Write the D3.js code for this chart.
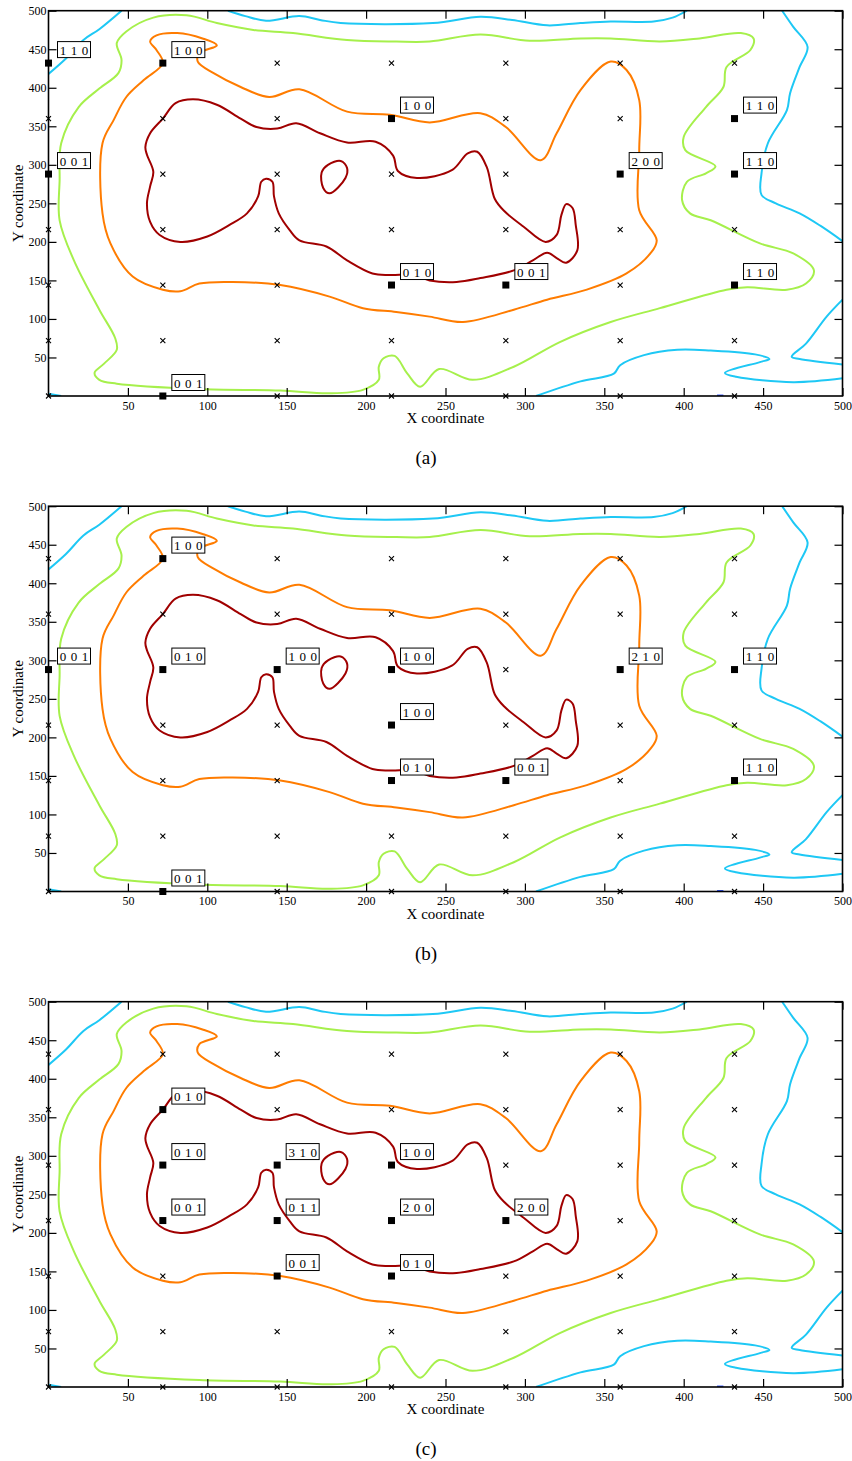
<!DOCTYPE html>
<html lang="en">
<head>
<meta charset="utf-8">
<title>Contours</title>
<script src="https://d3js.org/d3.v7.min.js"></script>
<style>
  body { margin: 0; background: #fff; }
  svg text { font-family: "Liberation Serif", "Times New Roman", serif; fill: #000; }
</style>
</head>
<body>
<script>
// grid of sample sites and axis ticks
const gridPos = [0, 72, 144, 216, 288, 360, 432];
const xTicks = [50, 100, 150, 200, 250, 300, 350, 400, 450, 500];
const yTicks = [50, 100, 150, 200, 250, 300, 350, 400, 450, 500];
const captions = ["(a)", "(b)", "(c)"];

// contour pieces, [x, y] in data units (same field in all three panels)
const cyanCornerTL = [[0,418],[11,438],[22,462],[32,476],[46,500]];
const cyanTop = [[113,500],[124,493],[137,487],[158,493],[171,488],[184,484],[242,484],[272,492],[292,488],[314,481],[335,484],[354,486],[381,486],[393,491],[402,500]];
const cyanRight = [[462,500],[469,479],[478,453],[473,427],[467,393],[465,371],[453,328],[449,289],[449,261],[458,250],[473,237],[486,221],[500,201]];
const cyanLobe = [[500,125],[490,103],[477,68],[468,51],[473,48],[500,41]];
const cyanBottom = [[307,0],[335,19],[356,29],[360,40],[375,53],[396,60],[417,59],[445,54],[454,48],[448,44],[426,30],[433,25],[469,18],[500,23]];
const cyanCornerBL = [[0,3],[8,0]];
const blueSpeck = [[421,0.6],[425,0.6]];
const greenLoop = [[43,16],[32,21],[29,30],[35,42],[43,60],[42,75],[32,112],[16,176],[7,228],[7,280],[8,328],[19,375],[32,399],[44,419],[46,436],[43,458],[49,473],[66,491],[87,494],[106,484],[129,475],[154,471],[188,462],[219,460],[240,460],[272,469],[303,461],[335,464],[354,464],[385,460],[410,464],[436,471],[444,464],[442,449],[427,427],[425,401],[414,375],[400,336],[401,319],[420,298],[414,289],[402,278],[399,254],[404,237],[417,228],[448,198],[469,185],[482,163],[477,146],[465,138],[440,141],[427,138],[385,114],[354,96],[322,70],[293,38],[267,21],[246,35],[234,12],[226,29],[218,52],[211,49],[208,38],[208,21],[198,8],[177,3.5],[146,7],[95,9]];
const orangeLoop = [[72,432],[68,449],[64,460],[68,468],[81,471],[97,464],[106,455],[95,445],[94,434],[104,419],[121,401],[139,388],[158,398],[188,369],[215,365],[240,355],[272,367],[288,349],[310,306],[320,341],[335,397],[354,434],[364,423],[372,384],[372,319],[372,241],[383,202],[379,185],[364,159],[339,138],[314,125],[293,112],[261,96],[240,103],[219,109],[198,114],[177,129],[146,144],[116,148],[95,146],[83,136],[72,138],[53,155],[39,198],[34,237],[34,328],[41,358],[49,388],[60,410]];
const redLoop = [[72,360],[80,380],[91,385],[106,378],[121,360],[131,349],[144,347],[156,354],[171,341],[188,329],[206,330],[217,312],[220,292],[232,283],[254,293],[264,315],[270,317],[276,297],[281,256],[287,240],[299,220],[313,200],[320,209],[323,235],[326,249],[330,244],[332,222],[333,189],[326,173],[320,179],[314,186],[305,176],[293,163],[272,153],[257,148],[240,150],[230,157],[215,157],[204,159],[188,176],[175,194],[158,202],[152,215],[145,237],[142,259],[141,278],[137,282],[134,278],[132,259],[125,237],[114,222],[100,207],[83,200],[70,209],[64,226],[62,250],[64,272],[66,291],[62,313],[61,323],[64,341]];
const redIsland = [[172,290],[176,300],[184,305],[188,296],[187,283],[177,263],[173,270]];

const openPieces = [cyanCornerTL, cyanTop, cyanRight, cyanLobe, cyanBottom, cyanCornerBL, blueSpeck];
const openColors = ["#1ec8f5", "#1ec8f5", "#1ec8f5", "#1ec8f5", "#1ec8f5", "#1ec8f5", "#3355ff"];
const closedPieces = [greenLoop, orangeLoop, redLoop, redIsland];
const closedColors = ["#a6f04c", "#ff7c00", "#a00000", "#a00000"];

// labelled sites per panel: [x, y] and counts
const sitesA = [[0,432],[72,432],[216,360],[432,360],[0,288],[360,288],[432,288],[216,144],[288,144],[432,144],[72,0]];
const countsA = ["1 1 0","1 0 0","1 0 0","1 1 0","0 0 1","2 0 0","1 1 0","0 1 0","0 0 1","1 1 0","0 0 1"];
const sitesB = [[72,432],[0,288],[72,288],[144,288],[216,288],[360,288],[432,288],[216,216],[216,144],[288,144],[432,144],[72,0]];
const countsB = ["1 0 0","0 0 1","0 1 0","1 0 0","1 0 0","2 1 0","1 1 0","1 0 0","0 1 0","0 0 1","1 1 0","0 0 1"];
const sitesC = [[72,360],[72,288],[144,288],[216,288],[72,216],[144,216],[216,216],[288,216],[144,144],[216,144]];
const countsC = ["0 1 0","0 1 0","3 1 0","1 0 0","0 0 1","0 1 1","2 0 0","2 0 0","0 0 1","0 1 0"];

const panels = [[sitesA, countsA], [sitesB, countsB], [sitesC, countsC]];

const W = 852, H = 1461;
const pLeft = 48.5, pRight = 842.5, pTop = 10.7, pBottom = 396, step = 495.5;

const x = d3.scaleLinear().domain([0, 500]).range([pLeft, pRight]);
const y = d3.scaleLinear().domain([0, 500]).range([pBottom, pTop]);

const svg = d3.select("body").append("svg")
    .attr("width", W).attr("height", H);

svg.append("clipPath").attr("id", "plotclip")
  .append("rect")
    .attr("x", pLeft).attr("y", pTop)
    .attr("width", pRight - pLeft).attr("height", pBottom - pTop);

const openLine = d3.line().x(d => x(d[0])).y(d => y(d[1])).curve(d3.curveCatmullRom.alpha(0.5));
const closedLine = d3.line().x(d => x(d[0])).y(d => y(d[1])).curve(d3.curveCatmullRomClosed.alpha(0.5));

panels.forEach(([sites, counts], p) => {
  const g = svg.append("g").attr("transform", "translate(0," + (p * step) + ")");

  // contours
  const c = g.append("g").attr("clip-path", "url(#plotclip)")
      .attr("fill", "none").attr("stroke-width", 2).attr("stroke-linejoin", "round");
  openPieces.forEach((pts, i) => {
    c.append("path").attr("d", openLine(pts)).attr("stroke", openColors[i]);
  });
  closedPieces.forEach((pts, i) => {
    c.append("path").attr("d", closedLine(pts)).attr("stroke", closedColors[i]);
  });

  // axes, ticks point inward
  const bAxis = g.append("g").attr("transform", "translate(0," + pBottom + ")")
      .call(d3.axisBottom(x).tickValues(xTicks).tickSizeInner(-8).tickSizeOuter(0).tickPadding(5));
  const lAxis = g.append("g").attr("transform", "translate(" + pLeft + ",0)")
      .call(d3.axisLeft(y).tickValues(yTicks).tickSizeInner(-8).tickSizeOuter(0).tickPadding(2));
  const tAxis = g.append("g").attr("transform", "translate(0," + pTop + ")")
      .call(d3.axisTop(x).tickValues(xTicks).tickSizeInner(-8).tickSizeOuter(0).tickFormat(""));
  const rAxis = g.append("g").attr("transform", "translate(" + pRight + ",0)")
      .call(d3.axisRight(y).tickValues(yTicks).tickSizeInner(-8).tickSizeOuter(0).tickFormat(""));
  [bAxis, lAxis, tAxis, rAxis].forEach(a => {
    a.select(".domain").remove();
    a.selectAll(".tick line").attr("stroke", "#000").attr("stroke-width", 1.2);
    a.selectAll("text").attr("font-family", "Liberation Serif, serif").attr("font-size", 12).attr("fill", "#000");
  });

  g.append("rect")
      .attr("x", pLeft).attr("y", pTop)
      .attr("width", pRight - pLeft).attr("height", pBottom - pTop)
      .attr("fill", "none").attr("stroke", "#000").attr("stroke-width", 1.6);

  // grid sites: squares where labelled, crosses elsewhere
  const key = d => d[0] + "," + d[1];
  const marked = new Set(sites.map(key));
  const all = [];
  gridPos.forEach(gx => gridPos.forEach(gy => all.push([gx, gy])));

  g.selectAll(".cross").data(all.filter(d => !marked.has(key(d)))).enter()
    .append("path").attr("class", "cross")
      .attr("d", d => {
        const cx = x(d[0]), cy = y(d[1]), r = 2.5;
        return "M" + (cx - r) + "," + (cy - r) + "L" + (cx + r) + "," + (cy + r) +
               "M" + (cx - r) + "," + (cy + r) + "L" + (cx + r) + "," + (cy - r);
      })
      .attr("stroke", "#000").attr("stroke-width", 1.1);

  g.selectAll(".site").data(sites).enter()
    .append("rect").attr("class", "site")
      .attr("x", d => x(d[0]) - 3.5).attr("y", d => y(d[1]) - 3.5)
      .attr("width", 7).attr("height", 7).attr("fill", "#000");

  const boxes = g.selectAll(".box").data(sites).enter()
    .append("g").attr("class", "box")
      .attr("transform", d => "translate(" + (x(d[0]) + 9) + "," + (y(d[1]) - 21.5) + ")");
  boxes.append("rect")
      .attr("width", 33).attr("height", 16)
      .attr("fill", "#fff").attr("stroke", "#000").attr("stroke-width", 1);
  boxes.each(function(d, i) {
    d3.select(this).selectAll("text").data(counts[i].split(" ")).enter()
      .append("text")
        .attr("x", (t, j) => 5.5 + j * 11)
        .attr("y", 13)
        .attr("text-anchor", "middle")
        .attr("font-size", 13)
        .text(t => t);
  });

  // titles
  g.append("text")
      .attr("x", (pLeft + pRight) / 2).attr("y", 423)
      .attr("text-anchor", "middle").attr("font-size", 15)
      .text("X coordinate");
  g.append("text")
      .attr("transform", "translate(23," + ((pTop + pBottom) / 2) + ") rotate(-90)")
      .attr("text-anchor", "middle").attr("font-size", 15)
      .text("Y coordinate");
  g.append("text")
      .attr("x", W / 2).attr("y", 464)
      .attr("text-anchor", "middle").attr("font-size", 19)
      .text(captions[p]);
});
</script>
</body>
</html>
